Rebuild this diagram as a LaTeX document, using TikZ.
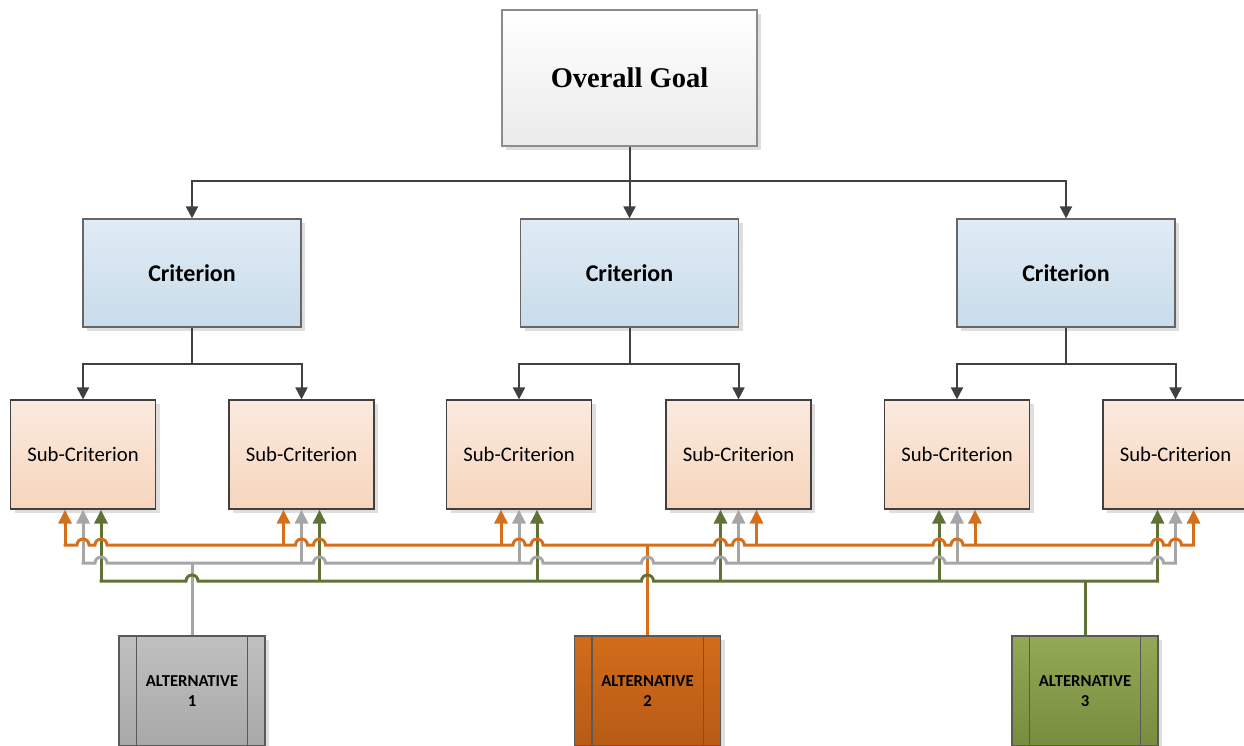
\documentclass[tikz,border=0pt]{standalone}
\usepackage{fontspec}
\setmainfont{Carlito}
\newfontfamily\goalfont{Liberation Serif}
\usetikzlibrary{arrows.meta,shadows}
\definecolor{dk}{HTML}{404040}
\definecolor{orn}{HTML}{D46F1C}
\definecolor{gry}{HTML}{A6A6A6}
\definecolor{grn}{HTML}{607235}
\tikzset{
  boxshadow/.style={drop shadow={shadow xshift=4pt,shadow yshift=-4pt,fill=black!13,opacity=1}},
  goalbox/.style={draw=black!45,line width=1.2pt,shading=axis,top color=white,bottom color=black!8,
    minimum width=255pt,minimum height=136pt,inner sep=0pt,boxshadow,font=\goalfont\bfseries\fontsize{28.5}{32}\selectfont},
  critbox/.style={draw=black!60,line width=1.2pt,shading=axis,top color={rgb,255:red,224;green,235;blue,245},
    bottom color={rgb,255:red,200;green,220;blue,234},minimum width=218pt,minimum height=108pt,inner sep=0pt,
    boxshadow,font=\bfseries\fontsize{24}{28}\selectfont},
  subbox/.style={draw=dk,line width=1.2pt,shading=axis,top color={rgb,255:red,251;green,234;blue,223},
    bottom color={rgb,255:red,246;green,213;blue,188},minimum width=145pt,minimum height=109pt,inner sep=0pt,
    boxshadow,font=\fontsize{20.7}{24}\selectfont},
  altbox/.style={draw=black!65,line width=1.2pt,shading=axis,minimum width=146pt,minimum height=110pt,inner sep=0pt,
    boxshadow,align=center,font=\bfseries\fontsize{16.7}{20}\selectfont},
  altline/.style={draw=black!65,line width=1.2pt},
  darrow/.style={draw=dk,line width=2pt,-{Triangle[length=12pt,width=12pt]}},
  busline/.style={line width=3pt},
  carrow/.style={line width=3pt,-{Triangle[length=14pt,width=13pt]}},
}
\begin{document}
\begin{tikzpicture}[x=1pt,y=-1pt]
\useasboundingbox (0,0) rectangle (1244,745);

% nodes
\node[goalbox] (goal) at (629.5,78) {Overall Goal};
\node[critbox] (c1) at (192,273) {Criterion};
\node[critbox] (c2) at (629.5,273) {Criterion};
\node[critbox] (c3) at (1066,273) {Criterion};
\node[subbox] (s1) at (83,454.5) {Sub-Criterion};
\node[subbox] (s2) at (301.5,454.5) {Sub-Criterion};
\node[subbox] (s3) at (519,454.5) {Sub-Criterion};
\node[subbox] (s4) at (738.5,454.5) {Sub-Criterion};
\node[subbox] (s5) at (957,454.5) {Sub-Criterion};
\node[subbox] (s6) at (1175.5,454.5) {Sub-Criterion};
\node[altbox,top color={rgb,255:red,192;green,192;blue,192},bottom color={rgb,255:red,168;green,168;blue,168}] (a1) at (192,691) {ALTERNATIVE\\1};
\node[altbox,top color={rgb,255:red,210;green,108;blue,26},bottom color={rgb,255:red,182;green,91;blue,21}] (a2) at (647.5,691) {ALTERNATIVE\\2};
\node[altbox,top color={rgb,255:red,147;green,169;blue,86},bottom color={rgb,255:red,119;green,140;blue,62}] (a3) at (1085,691) {ALTERNATIVE\\3};
\foreach \a in {a1,a2,a3}{
  \draw[altline] ([xshift=18pt]\a.north west) -- ([xshift=18pt]\a.south west);
  \draw[altline] ([xshift=-18pt]\a.north east) -- ([xshift=-18pt]\a.south east);
}

% goal -> criteria
\coordinate (gbus) at (629.5,181);
\draw[darrow] (goal.south) -- (gbus) -| (c1.north);
\draw[darrow] (gbus) -| (c3.north);
\draw[darrow] (gbus) -- (c2.north);

% criteria -> sub-criteria
\draw[darrow] (c1.south) -- ++(0,36) -| (s1.north);
\draw[darrow] (c1.south) -- ++(0,36) -| (s2.north);
\draw[darrow] (c2.south) -- ++(0,36) -| (s3.north);
\draw[darrow] (c2.south) -- ++(0,36) -| (s4.north);
\draw[darrow] (c3.south) -- ++(0,36) -| (s5.north);
\draw[darrow] (c3.south) -- ++(0,36) -| (s6.north);

% feeders from alternatives
\coordinate (gj) at (192,563);
\coordinate (oj) at (647.5,545);
\coordinate (nj) at (1085,581);
\draw[busline,gry] (a1.north) -- (gj);
\draw[busline,orn] (a2.north) -- (oj);
\draw[busline,grn] (a3.north) -- (nj);

% arrows up into sub-criteria
\foreach \s in {s1,s2,s3}{
  \draw[carrow,orn] ([xshift=-18pt,yshift=-36pt]\s.south) -- ([xshift=-18pt]\s.south);
  \draw[carrow,gry] ([yshift=-54pt]\s.south) -- (\s.south);
  \draw[carrow,grn] ([xshift=18pt,yshift=-72pt]\s.south) -- ([xshift=18pt]\s.south);
}
\foreach \s in {s4,s5,s6}{
  \draw[carrow,orn] ([xshift=18pt,yshift=-36pt]\s.south) -- ([xshift=18pt]\s.south);
  \draw[carrow,gry] ([yshift=-54pt]\s.south) -- (\s.south);
  \draw[carrow,grn] ([xshift=-18pt,yshift=-72pt]\s.south) -- ([xshift=-18pt]\s.south);
}

% buses with line jumps
\draw[busline,orn,line cap=rect] (65,545)
  foreach \x in {83,101,301.5,319.5,519,537,720.5,738.5,939,957,1157.5,1175.5}
  { -- (\x-6,545) arc[start angle=180,end angle=0,radius=6pt] } -- (1193.5,545);
\draw[busline,gry,line cap=rect] (83,563)
  foreach \x in {101,319.5,537,647.5,720.5,939,1157.5}
  { -- (\x-6,563) arc[start angle=180,end angle=0,radius=6pt] } -- (1175.5,563);
\draw[busline,grn,line cap=rect] (101,581)
  foreach \x in {192,647.5}
  { -- (\x-6,581) arc[start angle=180,end angle=0,radius=6pt] } -- (1157.5,581);
\end{tikzpicture}
\end{document}
